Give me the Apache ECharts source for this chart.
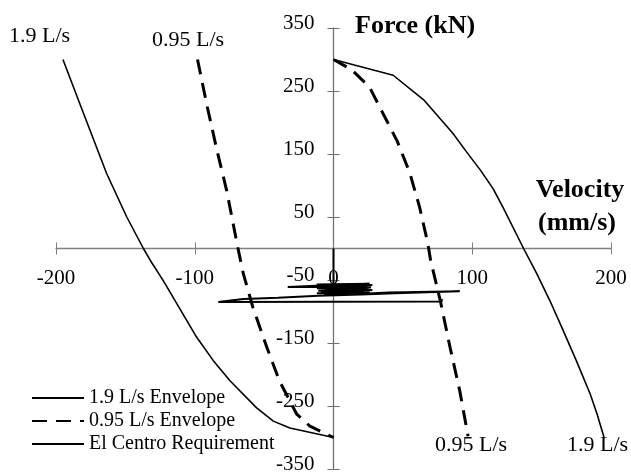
<!DOCTYPE html>
<html>
<head>
<meta charset="utf-8">
<script src="https://cdn.jsdelivr.net/npm/echarts@6/dist/echarts.min.js"></script>
<style>html,body{margin:0;padding:0;background:#fff;}#c{width:631px;height:472px;}</style>
</head>
<body>
<div id="c"></div>
<script>
// Axis ticks
const xTicks = [-200, -100, 0, 100, 200];
const yTicks = [-350, -250, -150, -50, 50, 150, 250, 350];

// 1.9 L/s envelope (two branches)
const env19LeftV = [-195, -182, -163.5, -149, -137, -132, -122.7, -98.6, -86.6, -74.6, -55.4, -43.4, -31.4, 0];
const env19LeftF = [300, 225, 119, 50, 0, -19, -51, -141, -178, -210, -253, -274, -285, -300];
const env19RightV = [0, 43, 65, 86, 96, 106, 115, 122, 137, 146.5, 156, 163.5, 175, 185, 190, 195];
const env19RightF = [300, 275, 236, 183, 153, 124, 95, 66, 0, -40, -83, -120, -178, -231, -263, -300];

// 0.95 L/s envelope (two branches)
const env095LeftV = [-98, -91, -84, -77, -69, -65, -58, -48, -39, -26.5, -17, 0];
const env095LeftF = [300, 225, 156, 92, 2, -40, -94, -157, -210, -263, -282, -300];
const env095RightV = [0, 13, 26, 36, 46, 55, 62, 68, 70, 77, 84, 91, 97];
const env095RightF = [300, 284, 256, 213, 170, 120, 66, 8, -19, -83, -157, -226, -298];

// El Centro requirement trace
const elCentroV = [0, 0, -33, -6, -12, 26, -10, 28, -8, 24, -12, 27, -6, 25, -11, 28, -9, 22, -12, 26, -7, 24, -11, 20,
                   44, 91, 40, 10, -11, -40, -65, -83, 78, 78];
const elCentroF = [0, -58, -61, -61, -57, -56, -59, -58, -61, -60, -63, -62, -65, -64, -67, -66, -69, -68, -71, -70, -73, -72, -75, -73,
                   -71, -68, -70, -73, -75, -78, -80, -85, -84, -80];

const zip = (a, b) => a.map((v, i) => [v, b[i]]);
const serif = 'Liberation Serif';

const W = 631, H = 472;
const G = {left: 56, right: 20, top: 28, bottom: 3};
const xMin = xTicks[0], xMax = xTicks[xTicks.length - 1];
const yMin = yTicks[0], yMax = yTicks[yTicks.length - 1];
// distances from grid edges to the zero lines (axes cross at the origin)
const gw = W - G.left - G.right, gh = H - G.top - G.bottom;
const zeroFromLeft = gw * (0 - xMin) / (xMax - xMin);
const zeroFromRight = gw - zeroFromLeft;
const zeroFromTop = gh * (yMax - 0) / (yMax - yMin);
const zeroFromBottom = gh - zeroFromTop;

const chart = echarts.init(document.getElementById('c'), null, {renderer: 'canvas'});
chart.setOption({
  animation: false,
  backgroundColor: '#fff',
  grid: Object.assign({containLabel: false, outerBoundsMode: 'none'}, G),
  xAxis: [{
    type: 'value', position: 'bottom', offset: -zeroFromBottom, min: xMin, max: xMax, interval: 100,
    splitLine: {show: false},
    axisLine: {onZero: false, lineStyle: {color: '#808080', width: 1.3}},
    axisTick: {length: 6, lineStyle: {color: '#808080'}},
    axisLabel: {margin: 19, color: '#000', fontFamily: serif, fontSize: 21}
  }, {
    type: 'value', position: 'top', offset: -zeroFromTop, min: xMin, max: xMax, interval: 100,
    splitLine: {show: false},
    axisLine: {show: false, onZero: false},
    axisTick: {length: 6, lineStyle: {color: '#808080'}},
    axisLabel: {show: false}
  }],
  yAxis: [{
    type: 'value', position: 'left', offset: -zeroFromLeft, min: yMin, max: yMax, interval: 100,
    splitLine: {show: false},
    axisLine: {onZero: false, lineStyle: {color: '#707070', width: 1.3}},
    axisTick: {length: 6, lineStyle: {color: '#707070'}},
    axisLabel: {margin: 19, color: '#000', fontFamily: serif, fontSize: 21, verticalAlign: 'bottom', lineHeight: 10}
  }, {
    type: 'value', position: 'right', offset: -zeroFromRight, min: yMin, max: yMax, interval: 100,
    splitLine: {show: false},
    axisLine: {show: false, onZero: false},
    axisTick: {length: 6, lineStyle: {color: '#707070'}},
    axisLabel: {show: false}
  }],
  legend: {
    orient: 'vertical', left: 31, top: 388, padding: 0,
    itemWidth: 52, itemHeight: 14, itemGap: 3,
    itemStyle: {opacity: 0},
    data: ['1.9 L/s Envelope', '0.95 L/s Envelope', 'El Centro Requirement'],
    textStyle: {fontFamily: serif, fontSize: 20, color: '#000'}
  },
  series: [
    {name: '1.9 L/s Envelope', type: 'line', symbol: 'none', data: zip(env19LeftV, env19LeftF),
     lineStyle: {color: '#000', width: 1.6}, itemStyle: {color: '#000'}},
    {name: '1.9 L/s Envelope', type: 'line', symbol: 'none', data: zip(env19RightV, env19RightF),
     lineStyle: {color: '#000', width: 1.6}, itemStyle: {color: '#000'}},
    {name: '0.95 L/s Envelope', type: 'line', symbol: 'none', data: zip(env095LeftV, env095LeftF),
     lineStyle: {color: '#000', width: 3, type: [15, 9]}, itemStyle: {color: '#000'}},
    {name: '0.95 L/s Envelope', type: 'line', symbol: 'none', data: zip(env095RightV, env095RightF),
     lineStyle: {color: '#000', width: 3, type: [15, 9]}, itemStyle: {color: '#000'}},
    {name: 'El Centro Requirement', type: 'line', symbol: 'none', data: zip(elCentroV, elCentroF),
     lineStyle: {color: '#000', width: 2}, itemStyle: {color: '#000'}}
  ],
  graphic: [
    {type: 'text', left: 9, top: 25, style: {text: '1.9 L/s', font: '22px "Liberation Serif"', fill: '#000'}},
    {type: 'text', left: 152, top: 29, style: {text: '0.95 L/s', font: '22px "Liberation Serif"', fill: '#000'}},
    {type: 'text', left: 435, top: 434, style: {text: '0.95 L/s', font: '22px "Liberation Serif"', fill: '#000'}},
    {type: 'text', left: 567, top: 434, style: {text: '1.9 L/s', font: '22px "Liberation Serif"', fill: '#000'}},
    {type: 'text', left: 355, top: 13, style: {text: 'Force (kN)', font: 'bold 26px "Liberation Serif"', fill: '#000'}},
    {type: 'text', x: 580, y: 190, style: {text: 'Velocity', font: 'bold 26px "Liberation Serif"', fill: '#000', align: 'center', verticalAlign: 'middle'}},
    {type: 'text', x: 577, y: 223, style: {text: '(mm/s)', font: 'bold 26px "Liberation Serif"', fill: '#000', align: 'center', verticalAlign: 'middle'}}
  ]
});
</script>
</body>
</html>
